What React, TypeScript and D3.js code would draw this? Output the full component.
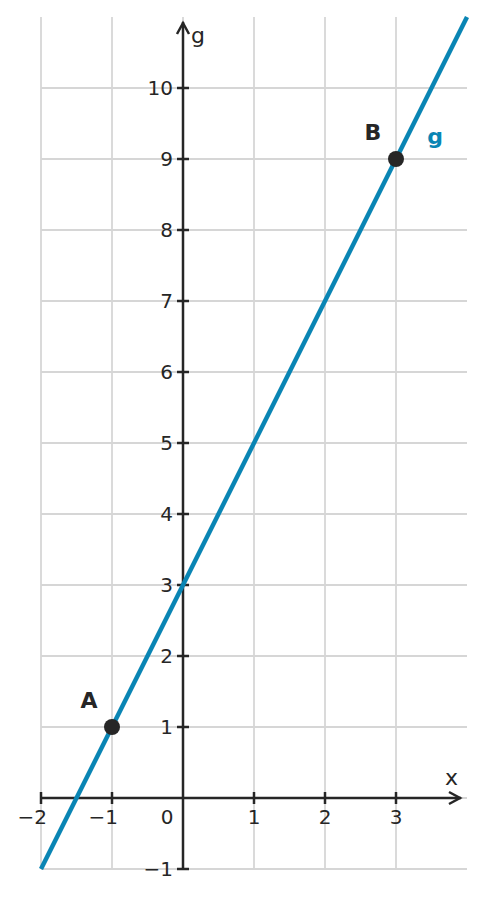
import React from "react";
import * as d3 from "d3";

const xTicks = [-2, -1, 0, 1, 2, 3];
const yTicks = [-1, 1, 2, 3, 4, 5, 6, 7, 8, 9, 10];
const gridX = [-2, -1, 0, 1, 2, 3];
const gridY = [-1, 0, 1, 2, 3, 4, 5, 6, 7, 8, 9, 10];
const lineX = [-2, 4];
const slope = 2;
const intercept = 3;
const points = [
  { name: "A", x: -1, y: 1 },
  { name: "B", x: 3, y: 9 },
];

const W = 485;
const H = 897;
const BLUE = "#0a85b4";
const DARK = "#262626";
const GRID = "#d6d6d6";
const FONT = "DejaVu Sans, sans-serif";

export default function App() {
  const x = d3.scaleLinear().domain([-2, 4]).range([41, 467]);
  const y = d3.scaleLinear().domain([-1, 11]).range([869, 17]);
  const line = d3
    .line<number>()
    .x((d) => x(d))
    .y((d) => y(slope * d + intercept));
  const fmt = (v: number) => (v < 0 ? "\u2212" + Math.abs(v) : String(v));

  return (
    <svg
      width={W}
      height={H}
      style={{ position: "absolute", left: 0, top: 0, background: "#fff" }}
      fontFamily={FONT}
    >
      {gridX.map((v) => (
        <line key={"gx" + v} x1={x(v)} x2={x(v)} y1={y(11)} y2={y(-1)} stroke={GRID} strokeWidth={1.8} />
      ))}
      {gridY.map((v) => (
        <line key={"gy" + v} x1={x(-2)} x2={x(4)} y1={y(v)} y2={y(v)} stroke={GRID} strokeWidth={1.8} />
      ))}
      {/* x axis */}
      <line x1={x(-2)} x2={x(4) - 6} y1={y(0)} y2={y(0)} stroke={DARK} strokeWidth={2.5} />
      <path
        d={`M${x(4) - 18},${y(0) - 6} L${x(4) - 7},${y(0)} L${x(4) - 18},${y(0) + 6}`}
        fill="none"
        stroke={DARK}
        strokeWidth={2.5}
      />
      {/* y axis */}
      <line x1={x(0)} x2={x(0)} y1={y(-1)} y2={y(11) + 5} stroke={DARK} strokeWidth={2.5} />
      <path
        d={`M${x(0) - 6},${y(11) + 17} L${x(0)},${y(11) + 6} L${x(0) + 6},${y(11) + 17}`}
        fill="none"
        stroke={DARK}
        strokeWidth={2.5}
      />
      {xTicks.map((v) =>
        v === 0 ? null : (
          <line key={"tx" + v} x1={x(v)} x2={x(v)} y1={y(0) - 6} y2={y(0) + 6} stroke={DARK} strokeWidth={2.5} />
        )
      )}
      {yTicks.map((v) => (
        <line key={"ty" + v} x1={x(0) - 6} x2={x(0) + 6} y1={y(v)} y2={y(v)} stroke={DARK} strokeWidth={2.5} />
      ))}
      {xTicks.map((v) => (
        <text
          key={"lx" + v}
          x={v === 0 ? x(0) - 16 : v < 0 ? x(v) + 6 : x(v)}
          y={y(0) + 26}
          fontSize={20}
          fill={DARK}
          textAnchor={v < 0 ? "end" : "middle"}
        >
          {fmt(v)}
        </text>
      ))}
      {yTicks.map((v) => (
        <text
          key={"ly" + v}
          x={x(0) - 10}
          y={y(v) + 7}
          fontSize={20}
          fill={DARK}
          textAnchor="end"
        >
          {fmt(v)}
        </text>
      ))}
      <text x={x(0) + 8} y={y(11) + 26} fontSize={22} fill={DARK}>
        g
      </text>
      <text x={x(4) - 22} y={y(0) - 13} fontSize={22} fill={DARK}>
        x
      </text>
      <path d={line(lineX) || ""} fill="none" stroke={BLUE} strokeWidth={4.5} />
      {points.map((p) => (
        <circle key={p.name} cx={x(p.x)} cy={y(p.y)} r={8} fill={DARK} />
      ))}
      {points.map((p) => (
        <text
          key={"l" + p.name}
          x={x(p.x) - 23}
          y={y(p.y) - 19}
          fontSize={22}
          fontWeight="bold"
          fill={DARK}
          textAnchor="middle"
        >
          {p.name}
        </text>
      ))}
      <text x={x(3) + 39} y={y(9) - 15} fontSize={22} fontWeight="bold" fill={BLUE} textAnchor="middle">
        g
      </text>
    </svg>
  );
}
